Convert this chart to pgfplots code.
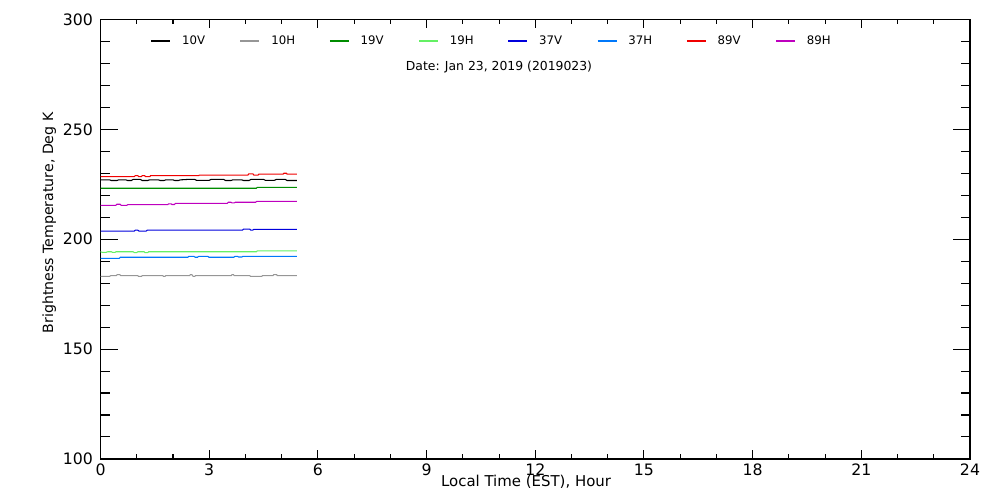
\documentclass[border=0pt]{standalone}
\usepackage{fontspec}
\setmainfont{DejaVu Sans}
\usepackage{pgfplots}
\pgfplotsset{compat=1.18}
\definecolor{cA}{RGB}{0,0,0}
\definecolor{cB}{RGB}{150,150,150}
\definecolor{cC}{RGB}{0,140,0}
\definecolor{cD}{RGB}{100,240,100}
\definecolor{cE}{RGB}{0,0,220}
\definecolor{cF}{RGB}{0,120,250}
\definecolor{cG}{RGB}{240,0,0}
\definecolor{cH}{RGB}{190,0,190}
\newcommand{\tickfont}{\fontsize{11.8}{14}\selectfont}
\newcommand{\legfont}{\fontsize{8.8}{10}\selectfont}
\newcommand{\datefont}{\fontsize{9.3}{11}\selectfont}
\begin{document}
\begin{tikzpicture}
\begin{axis}[
  name=ax,
  scale only axis,
  width=652.1pt, height=329.6pt,
  xmin=0, xmax=24, ymin=100, ymax=300,
  xtick={0,3,...,24}, minor x tick num=2,
  ytick={100,110,...,300},
  yticklabels={100,,,,,150,,,,,200,,,,,250,,,,,300},
  extra y ticks={100,150,200,250,300},
  extra y tick labels={,,,,},
  extra tick style={major tick length=12.75pt},
  tick align=inside,
  major tick length=6.75pt, minor tick length=3.4pt,
  every tick/.style={black, line width=0.8pt},
  axis line style={line width=0.9pt},
  /pgf/number format/assume math mode=true,
  tick label style={font=\tickfont},
  xticklabel style={anchor=north, inner sep=0pt, yshift=-3.75pt},
  yticklabel style={anchor=east, inner sep=0pt, xshift=-5.6pt},
  xlabel={Local Time (EST), Hour},
  ylabel={Brightness Temperature, Deg K},
  xlabel style={font=\fontsize{11.2}{13}\selectfont, at={(axis description cs:0.4894,-0.0637)}, anchor=base, inner sep=0pt},
  ylabel style={font=\fontsize{10.6}{13}\selectfont, at={(axis description cs:-0.0546,0.537)}, anchor=base, inner sep=0pt},
  legend columns=8,
  legend image code/.code={\draw[#1] (0pt,0pt) -- (14.25pt,0pt);},
  legend style={at={(axis description cs:0.0577,0.951)}, anchor=west, draw=none, fill=none, inner sep=0pt, outer sep=0pt, font=\legfont,
    cells={anchor=west, inner sep=0pt, text width=17.5pt, align=left},
    /tikz/every odd column/.append style={column sep=6.5pt},
    /tikz/every even column/.append style={column sep=23.9pt}},
  every axis plot/.append style={line width=0.8pt},
  clip=false,
]
\addplot[cA] coordinates {(0,227.0)(0.25,227.0)(0.3,226.7)(0.45,226.7)(0.5,227.0)(0.7,227.0)(0.75,226.7)(0.85,226.7)(0.9,227.2)(1.1,227.2)(1.15,226.7)(1.3,226.7)(1.35,227.0)(1.6,227.0)(1.65,226.7)(1.75,226.7)(1.8,227.0)(2.0,227.0)(2.05,226.7)(2.15,226.7)(2.2,227.0)(2.4,227.2)(2.6,227.2)(2.65,226.8)(3.0,226.8)(3.05,227.2)(3.4,227.2)(3.45,226.7)(3.6,226.7)(3.65,227.0)(3.9,227.0)(3.95,226.7)(4.1,226.7)(4.15,227.2)(4.5,227.2)(4.55,226.8)(4.8,226.8)(4.85,227.2)(5.1,227.2)(5.15,226.7)(5.42,226.7)};
\addlegendentry{10V}
\addplot[cB] coordinates {(0,183.1)(0.25,183.1)(0.28,183.4)(0.43,183.4)(0.46,183.9)(0.53,183.9)(0.56,183.4)(1.03,183.4)(1.05,183.1)(1.13,183.1)(1.15,183.4)(1.72,183.4)(1.74,183.1)(1.78,183.1)(1.8,183.4)(2.46,183.4)(2.48,183.9)(2.52,183.9)(2.54,183.4)(2.56,183.1)(2.6,183.1)(2.62,183.4)(3.61,183.4)(3.63,183.9)(3.67,183.9)(3.69,183.4)(4.12,183.4)(4.14,183.1)(4.45,183.1)(4.47,183.4)(4.76,183.4)(4.78,183.9)(4.86,183.9)(4.88,183.4)(5.42,183.4)};
\addlegendentry{10H}
\addplot[cC] coordinates {(0,223.2)(4.3,223.2)(4.33,223.6)(5.42,223.6)};
\addlegendentry{19V}
\addplot[cD] coordinates {(0,194.3)(0.05,194.0)(0.15,194.0)(0.2,194.3)(0.3,194.3)(0.33,194.0)(0.4,194.0)(0.43,194.3)(0.9,194.3)(0.93,193.9)(1.0,193.9)(1.03,194.3)(1.2,194.3)(1.23,193.9)(1.3,193.9)(1.33,194.3)(4.3,194.3)(4.33,194.7)(5.42,194.7)};
\addlegendentry{19H}
\addplot[cE] coordinates {(0,203.7)(0.93,203.7)(0.96,204.1)(1.03,204.1)(1.06,203.7)(1.26,203.7)(1.29,204.1)(3.92,204.1)(3.95,204.6)(4.12,204.6)(4.15,204.1)(4.2,204.1)(4.23,204.5)(5.42,204.5)};
\addlegendentry{37V}
\addplot[cF] coordinates {(0,191.3)(0.52,191.3)(0.55,191.8)(2.41,191.8)(2.44,192.2)(2.58,192.2)(2.61,191.8)(2.68,191.8)(2.71,192.2)(2.96,192.2)(2.99,191.8)(3.68,191.8)(3.71,192.2)(3.78,192.2)(3.81,191.9)(3.9,191.9)(3.93,192.2)(5.42,192.2)};
\addlegendentry{37H}
\addplot[cG] coordinates {(0,228.5)(0.93,228.5)(0.96,228.9)(1.03,228.9)(1.05,228.5)(1.13,228.5)(1.15,228.9)(1.22,228.9)(1.24,228.5)(1.36,228.5)(1.38,228.9)(2.71,228.9)(2.73,229.2)(4.07,229.2)(4.09,229.7)(4.21,229.7)(4.23,229.2)(4.35,229.2)(4.37,229.6)(5.04,229.6)(5.06,230.0)(5.13,230.0)(5.15,229.6)(5.42,229.6)};
\addlegendentry{89V}
\addplot[cH] coordinates {(0,215.4)(0.42,215.4)(0.45,215.9)(0.54,215.9)(0.57,215.4)(0.72,215.4)(0.75,215.7)(1.85,215.7)(1.88,216.1)(1.95,216.1)(1.97,215.8)(2.04,215.8)(2.07,216.3)(3.5,216.3)(3.53,216.8)(3.6,216.8)(3.63,216.5)(3.69,216.5)(3.72,216.8)(4.28,216.8)(4.31,217.2)(5.42,217.2)};
\addlegendentry{89H}
\node[anchor=base, font=\datefont, inner sep=0pt] at (axis description cs:0.4583,0.885) {Date: Jan 23, 2019 (2019023)};
\end{axis}
\pgfresetboundingbox
\path ([shift={(-75.4pt,-30.75pt)}]ax.south west) rectangle ([shift={(22.5pt,14.6pt)}]ax.north east);
\end{tikzpicture}
\end{document}
